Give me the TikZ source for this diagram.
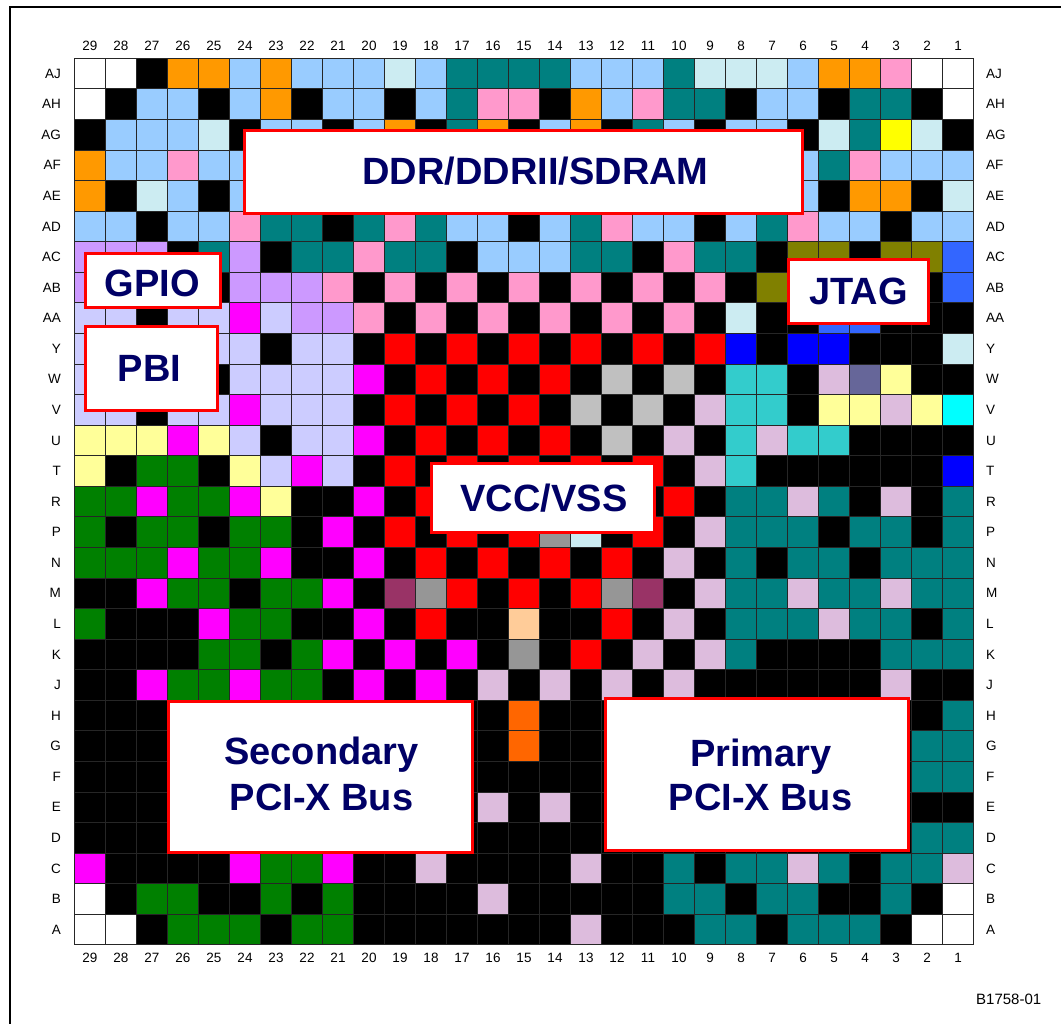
\documentclass[tikz,border=0pt]{standalone}
\usepackage{fontspec}
\setmainfont{Liberation Sans}
\definecolor{wh}{RGB}{255,255,255}
\definecolor{bk}{RGB}{0,0,0}
\definecolor{or}{RGB}{255,153,0}
\definecolor{lb}{RGB}{153,204,255}
\definecolor{pc}{RGB}{204,236,242}
\definecolor{te}{RGB}{0,128,128}
\definecolor{pk}{RGB}{255,153,204}
\definecolor{ye}{RGB}{255,255,0}
\definecolor{la}{RGB}{204,153,255}
\definecolor{pe}{RGB}{204,204,255}
\definecolor{mg}{RGB}{255,0,255}
\definecolor{ly}{RGB}{255,255,153}
\definecolor{gr}{RGB}{0,128,0}
\definecolor{rd}{RGB}{255,0,0}
\definecolor{sv}{RGB}{192,192,192}
\definecolor{dg}{RGB}{150,150,150}
\definecolor{th}{RGB}{221,188,221}
\definecolor{tq}{RGB}{51,204,204}
\definecolor{bl}{RGB}{0,0,255}
\definecolor{rb}{RGB}{51,102,255}
\definecolor{ol}{RGB}{128,128,0}
\definecolor{sl}{RGB}{102,102,153}
\definecolor{cy}{RGB}{0,255,255}
\definecolor{pl}{RGB}{153,51,102}
\definecolor{pa}{RGB}{255,204,153}
\definecolor{do}{RGB}{255,102,0}
\definecolor{navy}{RGB}{0,0,102}
\begin{document}
\begin{tikzpicture}[x=1pt,y=-1pt,
  lbl/.style={inner sep=0pt,font=\fontsize{13.5}{16}\selectfont},
  regbox/.style={draw=rd,fill=white,line width=3.3pt,inner sep=0pt},
  regtext/.style={inner sep=0pt,anchor=base,text=navy,font=\fontsize{38}{44}\selectfont\bfseries},
  cellst/.style={draw=black!85,line width=0.8pt}]
\useasboundingbox (0,0) rectangle (1061,1024);
\draw[line width=2pt] (1061,7) -- (10,7) -- (10,1024);
\foreach \row [count=\r from 0] in {
{wh,wh,bk,or,or,lb,or,lb,lb,lb,pc,lb,te,te,te,te,lb,lb,lb,te,pc,pc,pc,lb,or,or,pk,wh,wh},
{wh,bk,lb,lb,bk,lb,or,bk,lb,lb,bk,lb,te,pk,pk,bk,or,lb,pk,te,te,bk,lb,lb,bk,te,te,bk,wh},
{bk,lb,lb,lb,pc,bk,lb,lb,bk,lb,or,bk,te,or,bk,lb,or,bk,te,lb,bk,lb,lb,bk,pc,te,ye,pc,bk},
{or,lb,lb,pk,lb,lb,bk,bk,bk,bk,bk,bk,bk,bk,bk,bk,bk,bk,bk,bk,bk,bk,bk,lb,te,pk,lb,lb,lb},
{or,bk,pc,lb,bk,lb,bk,bk,bk,bk,bk,bk,bk,bk,bk,bk,bk,bk,bk,bk,bk,bk,bk,lb,bk,or,or,bk,pc},
{lb,lb,bk,lb,lb,pk,te,te,bk,te,pk,te,lb,lb,bk,lb,te,pk,lb,lb,bk,lb,te,pk,lb,lb,bk,lb,lb},
{la,la,la,bk,te,la,bk,te,te,pk,te,te,bk,lb,lb,lb,te,te,bk,pk,te,te,bk,ol,ol,bk,ol,ol,rb},
{la,la,la,la,bk,la,la,la,pk,bk,pk,bk,pk,bk,pk,bk,pk,bk,pk,bk,pk,bk,ol,bk,bk,bk,bk,bk,rb},
{pe,pe,bk,pe,pe,mg,pe,la,la,pk,bk,pk,bk,pk,bk,pk,bk,pk,bk,pk,bk,pc,bk,bk,rb,rb,bk,bk,bk},
{pe,pe,pe,pe,pe,pe,bk,pe,pe,bk,rd,bk,rd,bk,rd,bk,rd,bk,rd,bk,rd,bl,bk,bl,bl,bk,bk,bk,pc},
{pe,pe,pe,pe,bk,pe,pe,pe,pe,mg,bk,rd,bk,rd,bk,rd,bk,sv,bk,sv,bk,tq,tq,bk,th,sl,ly,bk,bk},
{pe,pe,bk,pe,pe,mg,pe,pe,pe,bk,rd,bk,rd,bk,rd,bk,sv,bk,sv,bk,th,tq,tq,bk,ly,ly,th,ly,cy},
{ly,ly,ly,mg,ly,pe,bk,pe,pe,mg,bk,rd,bk,rd,bk,rd,bk,sv,bk,th,bk,tq,th,tq,tq,bk,bk,bk,bk},
{ly,bk,gr,gr,bk,ly,pe,mg,pe,bk,rd,bk,rd,bk,rd,bk,rd,bk,rd,bk,th,tq,bk,bk,bk,bk,bk,bk,bl},
{gr,gr,mg,gr,gr,mg,ly,bk,bk,mg,bk,rd,bk,rd,bk,rd,bk,rd,bk,rd,bk,te,te,th,te,bk,th,bk,te},
{gr,bk,gr,gr,bk,gr,gr,bk,mg,bk,rd,bk,rd,bk,rd,dg,pc,bk,rd,bk,th,te,te,te,bk,te,te,bk,te},
{gr,gr,gr,mg,gr,gr,mg,bk,bk,mg,bk,rd,bk,rd,bk,rd,bk,rd,bk,th,bk,te,bk,te,te,bk,te,te,te},
{bk,bk,mg,gr,gr,bk,gr,gr,mg,bk,pl,dg,rd,bk,rd,bk,rd,dg,pl,bk,th,te,te,th,te,te,th,te,te},
{gr,bk,bk,bk,mg,gr,gr,bk,bk,mg,bk,rd,bk,bk,pa,bk,bk,rd,bk,th,bk,te,te,te,th,te,te,bk,te},
{bk,bk,bk,bk,gr,gr,bk,gr,mg,bk,mg,bk,mg,bk,dg,bk,rd,bk,th,bk,th,te,bk,bk,bk,bk,te,te,te},
{bk,bk,mg,gr,gr,mg,gr,gr,bk,mg,bk,mg,bk,th,bk,th,bk,th,bk,th,bk,bk,bk,bk,bk,bk,th,bk,bk},
{bk,bk,bk,bk,bk,bk,bk,bk,bk,bk,bk,bk,bk,bk,do,bk,bk,bk,bk,bk,bk,bk,bk,bk,bk,bk,bk,bk,te},
{bk,bk,bk,bk,bk,bk,bk,bk,bk,bk,bk,bk,bk,bk,do,bk,bk,bk,bk,bk,bk,bk,bk,bk,bk,bk,bk,te,te},
{bk,bk,bk,bk,bk,bk,bk,bk,bk,bk,bk,bk,bk,bk,bk,bk,bk,bk,bk,bk,bk,bk,bk,bk,bk,bk,bk,te,te},
{bk,bk,bk,bk,bk,bk,bk,bk,bk,bk,bk,bk,bk,th,bk,th,bk,bk,bk,bk,bk,bk,bk,bk,bk,bk,bk,bk,bk},
{bk,bk,bk,bk,bk,bk,bk,bk,bk,bk,bk,bk,bk,bk,bk,bk,bk,bk,bk,bk,bk,bk,bk,bk,bk,bk,bk,te,te},
{mg,bk,bk,bk,bk,mg,gr,gr,mg,bk,bk,th,bk,bk,bk,bk,th,bk,bk,te,bk,te,te,th,te,bk,te,te,th},
{wh,bk,gr,gr,bk,bk,gr,bk,gr,bk,bk,bk,bk,th,bk,bk,bk,bk,bk,te,te,bk,te,te,bk,bk,te,bk,wh},
{wh,wh,bk,gr,gr,gr,bk,gr,gr,bk,bk,bk,bk,bk,bk,bk,th,bk,bk,bk,te,te,bk,te,te,te,bk,wh,wh}} {
  \foreach \c [count=\i from 0] in \row {
    \filldraw[cellst,fill=\c] ({74.5+\i*31.0},{58.3+\r*30.57}) rectangle +(31.0,30.57);
  }
}
% column numbers
\foreach \n [count=\i from 0] in {29,28,...,1} {
  \node[lbl] (top\n) at ({90+\i*31.0},46) {\n};
  \node[lbl] (bot\n) at ({90+\i*31.0},958) {\n};
}
% row letters
\foreach \l [count=\r from 0] in {AJ,AH,AG,AF,AE,AD,AC,AB,AA,Y,W,V,U,T,R,P,N,M,L,K,J,H,G,F,E,D,C,B,A} {
  \node[lbl,anchor=east] (left\l) at (61,{73.6+\r*30.57}) {\l};
  \node[lbl,anchor=west] (right\l) at (986,{73.6+\r*30.57}) {\l};
}
% region boxes
\node[regbox,minimum width=557.7pt,minimum height=82.7pt] (ddr) at (523.5,172) {};
\node[regtext] (ddrt) at (535.5,185) {DDR/DDRII/SDRAM};
\node[regbox,minimum width=134.7pt,minimum height=53.7pt] (gpio) at (153,280.5) {};
\node[regtext] (gpiot) at (152.5,297) {GPIO};
\node[regbox,minimum width=131.7pt,minimum height=83.7pt] (pbi) at (151.5,368.5) {};
\node[regtext] (pbit) at (149.5,382) {PBI};
\node[regbox,minimum width=139.7pt,minimum height=63.7pt] (jtag) at (858.5,291.5) {};
\node[regtext] (jtagt) at (858.5,305) {JTAG};
\node[regbox,minimum width=222.7pt,minimum height=68.7pt] (vcc) at (543,498) {};
\node[regtext] (vcct) at (544,511) {VCC/VSS};
\node[regbox,minimum width=303.7pt,minimum height=150.7pt] (sec) at (320.5,777) {};
\node[regtext] (sect1) at (321.5,764) {Secondary};
\node[regtext] (sect2) at (321.5,810) {PCI-X Bus};
\node[regbox,minimum width=302.7pt,minimum height=151.7pt] (pri) at (757,774.5) {};
\node[regtext] (prit1) at (761,766) {Primary};
\node[regtext] (prit2) at (760.5,810) {PCI-X Bus};
\node[inner sep=0pt,anchor=base west,font=\fontsize{15}{18}\selectfont] (fig) at (976,1004) {B1758-01};
\end{tikzpicture}
\end{document}
